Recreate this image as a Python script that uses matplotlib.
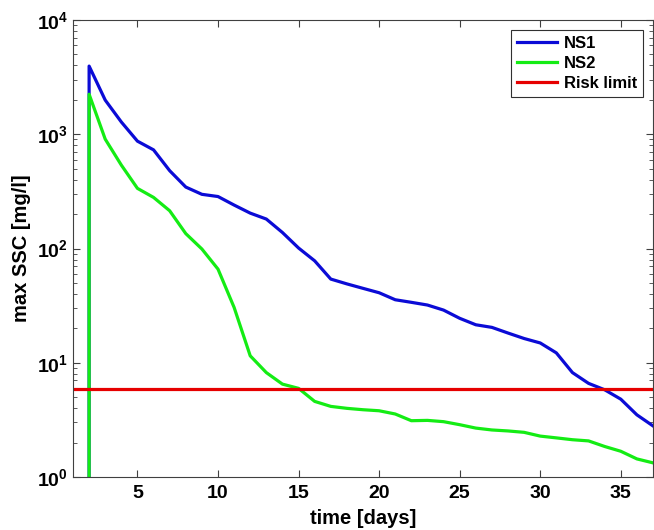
import matplotlib
matplotlib.use("Agg")
import matplotlib.pyplot as plt
import matplotlib.ticker as ticker
import numpy as np

plt.rcParams['font.family'] = ['Liberation Sans', 'DejaVu Sans']
plt.rcParams['font.weight'] = 'bold'
plt.rcParams['mathtext.fontset'] = 'custom'
plt.rcParams['mathtext.rm'] = 'Liberation Sans:bold'
plt.rcParams['mathtext.bf'] = 'Liberation Sans:bold'

# data (days, max SSC in mg/l)
days = [2, 2, 3, 4, 5, 6, 7, 8, 9, 10, 11, 12, 13, 14, 15, 16, 17, 18, 19, 20,
        21, 22, 23, 24, 25, 26, 27, 28, 29, 30, 31, 32, 33, 34, 35, 36, 37]
ns1 = [1e-3, 3950, 1990, 1280, 870, 730, 480, 345, 298, 285, 240, 204, 181, 138,
       101, 78, 54, 49, 44.8, 41, 35.6, 33.8, 32, 28.9, 24.5, 21.5, 20.4, 18.2,
       16.3, 14.9, 12.2, 8.2, 6.6, 5.8, 4.8, 3.5, 2.8]
ns2 = [1e-3, 2240, 906, 537, 336, 280, 214, 135, 99, 66, 30.5, 11.5, 8.2, 6.5,
       5.97, 4.59, 4.15, 3.99, 3.88, 3.8, 3.56, 3.11, 3.13, 3.05, 2.87, 2.68,
       2.58, 2.53, 2.46, 2.28, 2.2, 2.12, 2.07, 1.85, 1.68, 1.44, 1.33]
risk_limit = 5.85

fig = plt.figure(figsize=(6.54, 5.30), dpi=100)
ax = fig.add_axes([73/654, 53/530, 580/654, 457/530])

ax.plot(days, ns1, color='#0b0bd6', lw=2.3, label='NS1')
ax.plot(days, ns2, color='#14ec14', lw=2.3, label='NS2')
ax.axhline(risk_limit, color='#e60000', lw=2.3, label='Risk limit')

ax.set_yscale('log')
ax.set_xlim(1, 37)
ax.set_ylim(1, 1e4)
ax.set_xticks([5, 10, 15, 20, 25, 30, 35])
ax.yaxis.set_major_formatter(ticker.FuncFormatter(lambda v, p: r'$\mathbf{10^{%d}}$' % round(np.log10(v))))
ax.yaxis.set_minor_locator(ticker.LogLocator(base=10, subs=np.arange(2, 10)))
ax.yaxis.set_minor_formatter(ticker.NullFormatter())

ax.tick_params(which='both', direction='in', top=True, right=True, color='#404040')
ax.tick_params(which='major', length=5, labelsize=14)
ax.tick_params(axis='x', which='major', pad=6)
ax.tick_params(which='minor', length=3)
for s in ax.spines.values():
    s.set_color('#404040')
    s.set_linewidth(0.8)
for lbl in ax.get_xticklabels() + ax.get_yticklabels():
    lbl.set_fontweight('bold')

ax.set_xlabel('time [days]', fontsize=14.5, fontweight='bold', labelpad=5)
ax.set_ylabel('max SSC [mg/l]', fontsize=14.5, fontweight='bold', labelpad=4)

leg = ax.legend(loc='upper right', fontsize=12, fancybox=False, edgecolor='#303030',
                framealpha=1, handlelength=2.4, borderaxespad=0.6, labelspacing=0.3,
                handletextpad=0.4, borderpad=0.35)
leg.get_frame().set_linewidth(0.8)
for t in leg.get_texts():
    t.set_fontweight('bold')

fig.savefig('out.png', dpi=100)
